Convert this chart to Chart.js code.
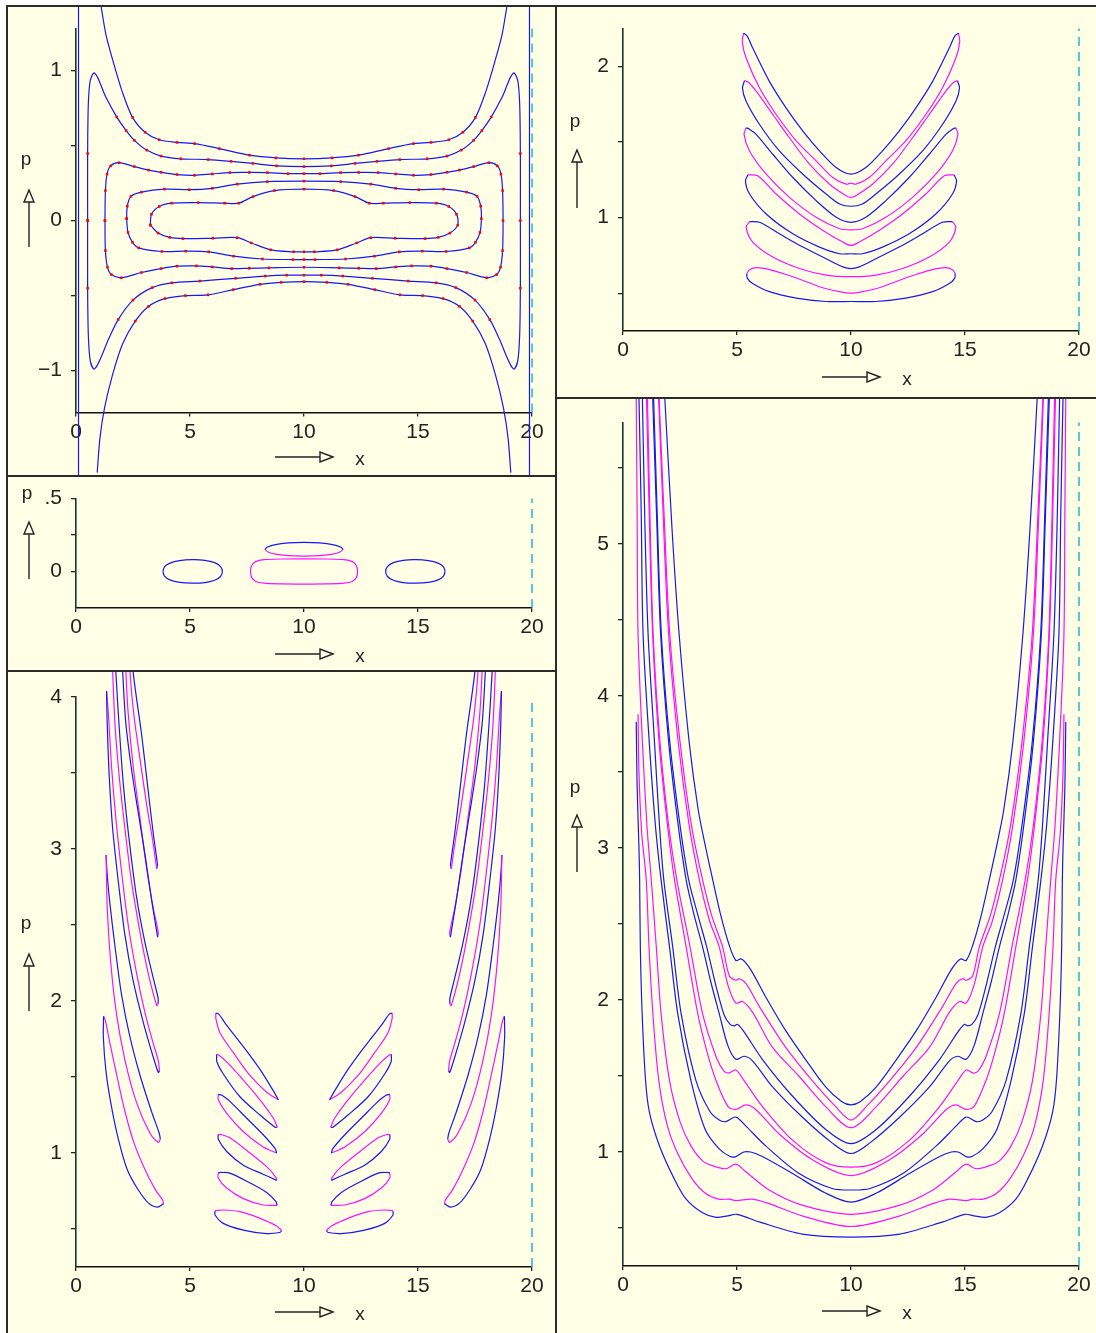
<!DOCTYPE html>
<html>
<head>
<meta charset="utf-8">
<title>Phase portraits</title>
<script src="https://cdn.jsdelivr.net/npm/chart.js@4.4.1/dist/chart.umd.min.js"></script>
<style>
  body { margin: 0; background: #fff; }
  #page { position: relative; width: 1096px; height: 1333px; overflow: hidden; background: #fff; }
  canvas { position: absolute; background: #ffffe6; }
  .rule { position: absolute; background: #2b2b2b; }
</style>
</head>
<body>
<div id="page">
  <canvas id="c1" width="547" height="468" style="left:8px;top:7px"></canvas>
  <canvas id="c2" width="547" height="193" style="left:8px;top:477px"></canvas>
  <canvas id="c3" width="547" height="661" style="left:8px;top:672px"></canvas>
  <canvas id="c4" width="539" height="390" style="left:557px;top:7px"></canvas>
  <canvas id="c5" width="539" height="934" style="left:557px;top:399px"></canvas>
  <div class="rule" style="left:6px;top:5px;width:1090px;height:2px"></div>
  <div class="rule" style="left:6px;top:5px;width:2px;height:1328px"></div>
  <div class="rule" style="left:555px;top:5px;width:2px;height:1328px"></div>
  <div class="rule" style="left:6px;top:475px;width:550px;height:2px"></div>
  <div class="rule" style="left:6px;top:670px;width:550px;height:2px"></div>
  <div class="rule" style="left:555px;top:397px;width:541px;height:2px"></div>
</div>
<script>
// ---- data (left halves run from the left end to x = 10, the picture is mirrored about x = 10) ----
const xTicks = [0, 5, 10, 15, 20];

// panel 1 : p from -1.28 to 1.28
const p1Walls = [0.11, 19.89];
const p1OuterUp = [[1.02,1.5],[1.13,1.4],[1.32,1.235],[1.63,1.06],[2.02,0.863],[2.48,0.688],[3.03,0.589],[3.65,0.539],[4.43,0.521],[5.2,0.513],[6.29,0.48],[7.61,0.436],[8.77,0.418],[10,0.412]];
const p1OuterDown = [[0.93,-1.68],[1.05,-1.45],[1.25,-1.25],[1.6,-1.03],[2.05,-0.82],[2.6,-0.67],[3.18,-0.572],[3.9,-0.52],[4.8,-0.5],[5.79,-0.495],[6.9,-0.46],[8.07,-0.425],[9.0,-0.412],[10,-0.407]];
const p1BoneUp = [[0.51,0],[0.51,0.447],[0.54,0.775],[0.62,0.93],[0.78,0.984],[0.93,0.96],[1.1,0.9],[1.32,0.82],[1.79,0.69],[2.2,0.6],[2.56,0.535],[3.1,0.47],[3.73,0.43],[4.6,0.412],[5.8,0.407],[6.8,0.395],[7.76,0.381],[8.8,0.365],[10,0.36]];
const p1BoneDown = [[0.51,0],[0.51,-0.45],[0.54,-0.76],[0.62,-0.93],[0.78,-0.99],[0.93,-0.965],[1.16,-0.89],[1.4,-0.8],[1.85,-0.66],[2.5,-0.53],[3.34,-0.447],[4.2,-0.415],[5.43,-0.403],[7.0,-0.385],[8.3,-0.37],[9.24,-0.364],[10,-0.364]];
const p1RingDUp = [[1.27,0],[1.29,0.2],[1.36,0.31],[1.52,0.365],[1.89,0.386],[2.56,0.36],[3.18,0.337],[3.73,0.322],[4.43,0.307],[5.2,0.302],[5.98,0.311],[6.75,0.32],[7.6,0.321],[8.39,0.32],[9.3,0.313],[10,0.313]];
const p1RingDDown = [[1.27,0],[1.29,-0.2],[1.38,-0.31],[1.55,-0.36],[1.99,-0.381],[2.87,-0.346],[3.73,-0.32],[4.43,-0.304],[5.28,-0.302],[5.98,-0.309],[6.83,-0.32],[7.6,-0.318],[8.46,-0.315],[10,-0.311]];
const p1RingEUp = [[2.22,0.013],[2.25,0.096],[2.41,0.162],[2.87,0.19],[3.88,0.21],[4.97,0.206],[5.98,0.215],[7.07,0.243],[8.39,0.26],[10,0.263]];
const p1RingEDown = [[2.22,0.013],[2.28,-0.079],[2.48,-0.145],[2.75,-0.182],[3.77,-0.206],[4.81,-0.204],[5.82,-0.208],[6.91,-0.237],[8.18,-0.256],[9.52,-0.26],[10,-0.26]];
const p1RingFUp = [[3.26,-0.03],[3.31,0.042],[3.65,0.094],[4.19,0.116],[5.36,0.12],[6.52,0.116],[7.14,0.116],[7.76,0.16],[8.7,0.2],[10,0.21]];
const p1RingFDown = [[3.26,-0.03],[3.6,-0.083],[4.11,-0.112],[4.69,-0.12],[6.0,-0.118],[7.07,-0.114],[7.69,-0.149],[8.54,-0.195],[9.55,-0.208],[10,-0.208]];

// panel 2 : p from -0.25 to 0.5
const p2EggLeft = [[3.81,0],[3.88,0.032],[4.12,0.058],[4.55,0.075],[5.1,0.081],[5.65,0.077],[6.08,0.061],[6.34,0.034],[6.42,0],[6.34,-0.034],[6.08,-0.06],[5.65,-0.076],[5.1,-0.08],[4.55,-0.074],[4.12,-0.057],[3.88,-0.031],[3.81,0]];
const p2BarUp = [[7.65,0],[7.7,0.04],[7.88,0.068],[8.25,0.081],[9.0,0.086],[10,0.087]];
const p2BarDown = [[7.65,0],[7.7,-0.04],[7.88,-0.068],[8.25,-0.08],[9.0,-0.085],[10,-0.086]];
const p2CapUp = [[8.28,0.152],[8.4,0.168],[8.75,0.185],[9.3,0.196],[10,0.2]];
const p2CapDown = [[8.28,0.152],[8.4,0.136],[8.75,0.119],[9.3,0.109],[10,0.106]];

// panel 3 : slanted islands (upper edge, lower edge), left side only
const p3M1Up = [[6.13,1.92],[6.25,1.915],[6.61,1.84],[7.34,1.7],[8.07,1.55],[8.65,1.41],[8.88,1.35]];
const p3M1Low = [[6.13,1.92],[6.14,1.88],[6.32,1.79],[6.9,1.66],[7.63,1.51],[8.36,1.4],[8.88,1.35]];
const p3M2Up = [[6.17,1.65],[6.3,1.64],[6.61,1.6],[7.34,1.48],[8.07,1.35],[8.65,1.23],[8.83,1.17]];
const p3M2Low = [[6.17,1.65],[6.18,1.6],[6.46,1.52],[7.19,1.37],[8.07,1.25],[8.73,1.17],[8.83,1.17]];
const p3M3Up = [[6.24,1.386],[6.4,1.38],[6.75,1.34],[7.48,1.23],[8.21,1.12],[8.73,1.03],[8.8,1.0]];
const p3M3Low = [[6.24,1.386],[6.24,1.35],[6.61,1.26],[7.34,1.14],[8.21,1.04],[8.8,1.0]];
const p3M4Up = [[6.24,1.123],[6.4,1.12],[6.75,1.1],[7.63,1.0],[8.36,0.91],[8.77,0.84],[8.8,0.82]];
const p3M4Low = [[6.24,1.123],[6.24,1.09],[6.61,1.01],[7.34,0.92],[8.21,0.86],[8.8,0.82]];
const p3M5Up = [[6.24,0.871],[6.4,0.872],[6.75,0.868],[7.63,0.803],[8.36,0.74],[8.77,0.68],[8.82,0.655]];
const p3M5Low = [[6.24,0.871],[6.24,0.834],[6.61,0.77],[7.34,0.7],[8.21,0.658],[8.82,0.655]];
const p3M6Up = [[6.1,0.62],[6.46,0.625],[7.19,0.614],[8.07,0.57],[8.8,0.52],[9.02,0.49]];
const p3M6Low = [[6.1,0.62],[6.1,0.592],[6.46,0.537],[7.34,0.493],[8.36,0.47],[8.94,0.477],[9.02,0.49]];
// panel 3 : long fingers (outer edge, inner edge), left side only
const p3G1Out = [[1.21,1.9],[1.2,1.76],[1.32,1.53],[1.55,1.31],[1.86,1.09],[2.25,0.89],[2.72,0.76],[3.18,0.67],[3.57,0.644],[3.84,0.667]];
const p3G1In = [[1.21,1.9],[1.29,1.87],[1.48,1.73],[1.79,1.51],[2.17,1.26],[2.56,1.06],[3.03,0.89],[3.49,0.756],[3.8,0.69],[3.84,0.667]];
const p3G2Out = [[1.32,2.96],[1.37,2.62],[1.52,2.26],[1.78,1.91],[2.15,1.61],[2.66,1.33],[3.25,1.13],[3.61,1.07],[3.7,1.09]];
const p3G2In = [[1.32,2.96],[1.35,2.87],[1.46,2.68],[1.71,2.36],[2.0,2.04],[2.37,1.76],[2.81,1.51],[3.32,1.27],[3.65,1.13],[3.7,1.09]];
const p3G3Out = [[1.34,4.04],[1.37,3.82],[1.46,3.47],[1.61,3.13],[1.86,2.78],[2.15,2.43],[2.51,2.13],[2.95,1.86],[3.39,1.63],[3.61,1.53],[3.66,1.54]];
const p3G3In = [[1.34,4.04],[1.42,3.89],[1.56,3.54],[1.75,3.2],[2.0,2.85],[2.29,2.5],[2.66,2.18],[3.03,1.92],[3.39,1.72],[3.62,1.6],[3.66,1.54]];
const p3G4Out = [[1.58,4.3],[1.61,4.16],[1.71,3.82],[1.9,3.47],[2.15,3.13],[2.44,2.78],[2.81,2.45],[3.17,2.18],[3.54,1.97],[3.6,1.98]];
const p3G4In = [[1.72,4.3],[1.75,4.16],[1.9,3.79],[2.08,3.42],[2.34,3.05],[2.66,2.68],[3.03,2.38],[3.39,2.15],[3.6,2.02],[3.6,1.98]];
const p3G5Out = [[2.03,4.3],[2.05,4.16],[2.19,3.82],[2.44,3.52],[2.73,3.24],[3.03,2.96],[3.32,2.66],[3.58,2.42]];
const p3G5In = [[2.17,4.3],[2.19,4.16],[2.29,3.89],[2.51,3.54],[2.81,3.2],[3.1,2.87],[3.39,2.61],[3.61,2.45],[3.58,2.42]];
const p3G6Out = [[2.35,4.3],[2.37,4.16],[2.54,3.88],[2.81,3.59],[3.1,3.29],[3.36,3.06],[3.54,2.87]];
const p3G6In = [[2.49,4.3],[2.51,4.16],[2.88,3.75],[3.13,3.43],[3.39,3.1],[3.57,2.9],[3.54,2.87]];

// panel 4 : bananas (upper edge, lower edge), left halves
const p4B1Up = [[5.29,2.22],[5.45,2.2],[5.69,2.121],[6.42,1.901],[7.15,1.726],[7.89,1.572],[8.62,1.441],[9.35,1.331],[10,1.287]];
const p4B1Low = [[5.29,2.22],[5.23,2.164],[5.4,2.055],[5.99,1.857],[6.72,1.682],[7.6,1.507],[8.47,1.375],[9.2,1.265],[9.79,1.221],[10,1.228]];
const p4B2Up = [[5.33,1.906],[5.5,1.895],[5.84,1.836],[6.57,1.682],[7.3,1.528],[8.18,1.353],[9.06,1.221],[9.79,1.145],[10,1.134]];
const p4B2Low = [[5.33,1.906],[5.24,1.857],[5.4,1.77],[5.99,1.616],[6.86,1.441],[7.89,1.287],[8.91,1.156],[9.5,1.09],[10,1.075]];
const p4B3Up = [[5.4,1.594],[5.55,1.585],[5.84,1.55],[6.57,1.419],[7.45,1.265],[8.47,1.112],[9.35,1.002],[10,0.969]];
const p4B3Low = [[5.4,1.594],[5.31,1.55],[5.55,1.441],[6.28,1.287],[7.3,1.134],[8.47,1.002],[9.5,0.926],[10,0.919]];
const p4B4Up = [[5.48,1.283],[5.91,1.276],[6.72,1.156],[7.74,1.024],[8.77,0.915],[9.64,0.838],[10,0.816]];
const p4B4Low = [[5.48,1.283],[5.37,1.243],[5.55,1.156],[6.28,1.024],[7.45,0.893],[8.62,0.805],[9.5,0.761],[10,0.761]];
const p4B5Up = [[5.55,0.974],[5.99,0.969],[6.86,0.893],[7.89,0.805],[8.91,0.728],[9.64,0.674],[10,0.663]];
const p4B5Low = [[5.55,0.974],[5.4,0.937],[5.69,0.838],[6.57,0.739],[7.74,0.663],[8.91,0.619],[10,0.609]];
const p4B6Up = [[5.43,0.63],[5.55,0.655],[5.84,0.669],[6.42,0.656],[7.45,0.609],[8.62,0.543],[9.5,0.51],[10,0.5]];
const p4B6Low = [[5.43,0.63],[5.45,0.6],[5.69,0.564],[6.42,0.51],[7.6,0.467],[8.91,0.445],[10,0.445]];

// panel 5 : open U curves, left halves, top to centre
const p5U1 = [[1.78,6.1],[1.83,5.97],[2.15,5.1],[2.46,4.41],[2.9,3.7],[3.3,3.25],[3.63,3.0],[3.95,2.78],[4.3,2.55],[4.66,2.36],[4.95,2.26],[5.2,2.27],[5.6,2.2],[6.26,2.02],[7.13,1.8],[8.0,1.61],[8.88,1.43],[9.6,1.33],[10,1.31]];
const p5U2 = [[1.55,6.1],[1.58,5.97],[1.8,5.2],[2.05,4.41],[2.5,3.7],[3.0,3.15],[3.49,2.79],[3.9,2.55],[4.37,2.35],[4.66,2.16],[4.95,2.13],[5.1,2.14],[5.39,2.11],[5.97,1.96],[7.13,1.69],[8.3,1.47],[9.32,1.3],[10,1.21]];
const p5U3 = [[1.53,6.1],[1.56,5.97],[1.76,5.2],[2.0,4.41],[2.42,3.7],[2.9,3.15],[3.35,2.79],[3.8,2.52],[4.22,2.35],[4.6,2.1],[4.95,1.98],[5.24,1.99],[5.68,1.92],[6.55,1.69],[7.71,1.5],[8.88,1.3],[10,1.16]];
const p5U4 = [[1.31,6.1],[1.34,5.97],[1.5,5.2],[1.68,4.41],[2.05,3.7],[2.5,3.15],[2.88,2.79],[3.3,2.55],[3.67,2.35],[4.1,2.08],[4.44,1.9],[4.7,1.84],[4.88,1.83],[5.02,1.84],[5.31,1.79],[6.11,1.61],[7.42,1.37],[8.88,1.15],[10,1.055]];
const p5U5 = [[1.27,6.1],[1.3,5.97],[1.47,5.2],[1.65,4.41],[2.0,3.7],[2.42,3.15],[2.77,2.79],[3.1,2.57],[3.49,2.35],[3.85,2.12],[4.22,1.91],[4.6,1.7],[4.95,1.61],[5.31,1.63],[5.68,1.6],[6.55,1.43],[7.86,1.23],[9.17,1.06],[10,0.99]];
const p5U6 = [[1.04,6.1],[1.07,5.97],[1.18,5.2],[1.32,4.41],[1.62,3.7],[2.0,3.15],[2.36,2.79],[2.94,2.35],[3.49,1.91],[4.1,1.62],[4.44,1.53],[4.66,1.52],[4.95,1.54],[5.31,1.47],[6.11,1.3],[7.42,1.08],[8.88,0.93],[10,0.9]];
const p5U7 = [[1.0,6.1],[1.03,5.97],[1.15,5.2],[1.3,4.41],[1.58,3.7],[1.95,3.15],[2.26,2.79],[2.77,2.35],[3.28,1.91],[3.7,1.65],[4.08,1.47],[4.6,1.3],[4.95,1.28],[5.39,1.31],[5.82,1.28],[6.84,1.12],[8.3,0.95],[10,0.845]];
const p5U8 = [[0.82,6.1],[0.85,5.97],[0.95,5.2],[1.1,4.41],[1.38,3.7],[1.6,3.15],[1.79,2.79],[2.18,2.35],[2.55,1.91],[3.2,1.47],[3.8,1.27],[4.22,1.21],[4.51,1.2],[4.95,1.23],[5.39,1.17],[6.26,1.04],[7.71,0.86],[9.17,0.76],[10,0.75]];
const p5U9 = [[0.68,6.1],[0.7,5.97],[0.8,5.2],[0.88,4.41],[1.15,3.7],[1.42,3.15],[1.67,2.79],[2.04,2.35],[2.4,1.91],[2.98,1.47],[3.6,1.15],[4.22,1.02],[4.7,0.97],[4.95,0.97],[5.3,1.0],[5.6,1.0],[6.11,0.97],[7.42,0.86],[8.88,0.73],[10,0.67]];
const p5U10 = [[0.57,6.1],[0.58,5.97],[0.62,5.2],[0.66,4.41],[0.85,3.7],[1.05,3.15],[1.24,2.79],[1.46,2.35],[1.67,1.91],[2.04,1.47],[2.5,1.2],[2.98,1.04],[3.5,0.94],[3.93,0.91],[4.51,0.89],[4.95,0.92],[5.39,0.87],[6.41,0.75],[7.86,0.65],[10,0.59]];
const p5U11 = [[0.66,3.88],[0.7,3.5],[0.82,3.1],[1.02,2.79],[1.14,2.35],[1.31,1.91],[1.57,1.47],[1.95,1.17],[2.4,0.99],[3.0,0.83],[3.6,0.73],[4.2,0.69],[4.66,0.69],[4.95,0.68],[5.68,0.69],[6.41,0.66],[7.86,0.58],[10,0.51]];
const p5U12 = [[0.58,3.83],[0.62,3.4],[0.7,3.0],[0.73,2.79],[0.76,2.35],[0.84,1.91],[0.99,1.47],[1.16,1.26],[1.6,1.04],[2.26,0.82],[2.77,0.69],[3.49,0.6],[4.08,0.57],[4.6,0.58],[5.0,0.59],[5.97,0.54],[7.86,0.46],[10,0.44]];

// ---- drawing ----
const BLUE = '#1818f4', MAG = '#ff10ff', CYAN = '#10b4c8', RED = '#ff0000';
Chart.defaults.font.family = '"Liberation Sans", Arial, sans-serif';

function flipX(a) { return a.map(([x, y]) => [20 - x, y]); }
function fullEdge(half) {
  const right = half.slice(0, -1).reverse().map(([x, y]) => [20 - x, y]);
  return half.concat(right);
}
function loop(upper, lower) {
  const u = fullEdge(upper);
  const l = fullEdge(lower).reverse();
  return u.concat(l.slice(1));
}
function curve(arr, color, extra) {
  return Object.assign({
    data: arr.map(([x, y]) => ({ x, y })),
    showLine: true, borderColor: color, borderWidth: 1.2,
    pointRadius: 0, pointHoverRadius: 0, tension: 0.3, clip: false, fill: false
  }, extra || {});
}
// red sample marks along the panel-1 curves, left off the steep flanks
const dots = {
  pointStyle: 'rect', pointBackgroundColor: RED, pointBorderWidth: 0,
  pointRadius: ctx => (Math.abs(ctx.raw.y) < 0.75 ? 1.8 : 0)
};

function decor(cfg) {
  return {
    id: 'decor',
    afterDraw(chart) {
      const c = chart.ctx, L = cfg.box[0], T = cfg.box[1];
      c.save();
      c.strokeStyle = '#222'; c.fillStyle = '#222'; c.lineWidth = 1.4;
      c.font = '19px "Liberation Sans", Arial, sans-serif';
      c.textAlign = 'center'; c.textBaseline = 'middle';
      c.fillText('p', cfg.pLabel[0] - L, cfg.pLabel[1] - T);
      c.fillText('x', cfg.xLabel[0] - L, cfg.xLabel[1] - T);
      const [ax, tip, bot] = cfg.upArrow;
      c.beginPath(); c.moveTo(ax - L, bot - T); c.lineTo(ax - L, tip + 12 - T); c.stroke();
      c.beginPath(); c.moveTo(ax - L, tip - T); c.lineTo(ax - 5 - L, tip + 12 - T); c.lineTo(ax + 5 - L, tip + 12 - T); c.closePath(); c.stroke();
      const [x1, x2, ay] = cfg.xArrow;
      c.beginPath(); c.moveTo(x1 - L, ay - T); c.lineTo(x2 - 13 - L, ay - T); c.stroke();
      c.beginPath(); c.moveTo(x2 - L, ay - T); c.lineTo(x2 - 13 - L, ay - 5 - T); c.lineTo(x2 - 13 - L, ay + 5 - T); c.closePath(); c.stroke();
      c.restore();
    }
  };
}

function buildChart(cfg) {
  const cv = document.getElementById(cfg.id);
  const L = cfg.box[0], T = cfg.box[1];
  const aL = cfg.x0 - L, aR = cfg.x20 - L, aT = cfg.yTopPx - T, aB = cfg.yBotPx - T;
  const sets = cfg.sets.slice();
  sets.push(curve([[20, cfg.ymin], [20, cfg.ymax]], CYAN, { borderDash: [9, 6], tension: 0, borderWidth: 1.4 }));
  new Chart(cv, {
    type: 'scatter',
    data: { datasets: sets },
    options: {
      responsive: false, animation: false, events: [],
      layout: { padding: { left: 0, top: aT, right: cv.width - aR, bottom: 0 } },
      elements: { line: { capBezierPoints: false } },
      plugins: { legend: { display: false }, tooltip: { enabled: false } },
      scales: {
        x: {
          type: 'linear', min: 0, max: 20,
          afterFit(s) { s.height = cv.height - aB; },
          afterBuildTicks(s) { s.ticks = xTicks.map(v => ({ value: v })); },
          grid: { drawOnChartArea: false, tickLength: 4, color: '#222', lineWidth: 1.3 },
          border: { color: '#111', width: 1.6 },
          ticks: { padding: 3, color: '#222', font: { size: 21 }, maxRotation: 0, autoSkip: false }
        },
        y: {
          type: 'linear', min: cfg.ymin, max: cfg.ymax,
          afterFit(s) { s.width = aL; },
          afterBuildTicks(s) { s.ticks = cfg.yticks.map(v => ({ value: v })); },
          grid: { drawOnChartArea: false, tickLength: 5, color: '#222', lineWidth: 1.3 },
          border: { color: '#163636', width: 1.6 },
          ticks: { padding: 9, color: '#222', font: { size: 21 }, autoSkip: false, callback: v => cfg.ylabels[v] ?? '' }
        }
      }
    },
    plugins: [decor(cfg)]
  });
}

// panel 1
const sets1 = [
  curve([[p1Walls[0], -1.7], [p1Walls[0], 1.7]], BLUE, { tension: 0 }),
  curve([[p1Walls[1], -1.7], [p1Walls[1], 1.7]], BLUE, { tension: 0 }),
  curve(fullEdge(p1OuterUp), BLUE, dots),
  curve(fullEdge(p1OuterDown), BLUE, dots),
  curve(loop(p1BoneUp, p1BoneDown), BLUE, dots),
  curve(loop(p1RingDUp, p1RingDDown), BLUE, dots),
  curve(loop(p1RingEUp, p1RingEDown), BLUE, dots),
  curve(loop(p1RingFUp, p1RingFDown), BLUE, dots)
];
buildChart({
  id: 'c1', box: [8, 7], x0: 76, x20: 532, yTopPx: 23.4, yBotPx: 412.6, ymin: -1.28, ymax: 1.28,
  yticks: [-1, -0.5, 0, 0.5, 1], ylabels: { '1': '1', '0': '0', '-1': '\u22121' },
  pLabel: [26, 160], upArrow: [29, 190, 247], xArrow: [275, 333, 457], xLabel: [360, 460], sets: sets1
});

// panel 2
const sets2 = [
  curve(p2EggLeft, BLUE),
  curve(flipX(p2EggLeft), BLUE),
  curve(loop(p2BarUp, p2BarDown), MAG),
  curve(fullEdge(p2CapUp), BLUE),
  curve(fullEdge(p2CapDown), MAG)
];
buildChart({
  id: 'c2', box: [8, 477], x0: 76, x20: 532, yTopPx: 494, yBotPx: 608, ymin: -0.25, ymax: 0.5,
  yticks: [0, 0.25, 0.5], ylabels: { '0': '0', '0.5': '.5' },
  pLabel: [27, 494], upArrow: [29, 522, 579], xArrow: [275, 333, 654], xLabel: [360, 657], sets: sets2
});

// panel 3
const mids = [[p3M1Up, p3M1Low], [p3M2Up, p3M2Low], [p3M3Up, p3M3Low], [p3M4Up, p3M4Low], [p3M5Up, p3M5Low], [p3M6Up, p3M6Low]];
const fingers = [[p3G1Out, p3G1In], [p3G2Out, p3G2In], [p3G3Out, p3G3In], [p3G4Out, p3G4In], [p3G5Out, p3G5In], [p3G6Out, p3G6In]];
const sets3 = [];
mids.forEach(([up, low], i) => {
  const cu = i % 2 === 0 ? BLUE : MAG, cl = i % 2 === 0 ? MAG : BLUE;
  sets3.push(curve(up, cu), curve(low, cl), curve(flipX(up), cu), curve(flipX(low), cl));
});
fingers.forEach(([out, inn], i) => {
  const co = i % 2 === 0 ? BLUE : MAG, ci = i % 2 === 0 ? MAG : BLUE;
  sets3.push(curve(out, co), curve(inn, ci), curve(flipX(out), co), curve(flipX(inn), ci));
});
buildChart({
  id: 'c3', box: [8, 672], x0: 76, x20: 532, yTopPx: 697, yBotPx: 1267, ymin: 0.25, ymax: 4,
  yticks: [0.5, 1, 1.5, 2, 2.5, 3, 3.5, 4], ylabels: { '1': '1', '2': '2', '3': '3', '4': '4' },
  pLabel: [26, 924], upArrow: [29, 954, 1011], xArrow: [275, 333, 1312], xLabel: [360, 1315], sets: sets3
});

// panel 4
const bananas = [[p4B1Up, p4B1Low], [p4B2Up, p4B2Low], [p4B3Up, p4B3Low], [p4B4Up, p4B4Low], [p4B5Up, p4B5Low], [p4B6Up, p4B6Low]];
const sets4 = [];
bananas.forEach(([up, low], i) => {
  sets4.push(curve(fullEdge(up), i % 2 === 0 ? BLUE : MAG), curve(fullEdge(low), i % 2 === 0 ? MAG : BLUE));
});
buildChart({
  id: 'c4', box: [557, 7], x0: 623, x20: 1079, yTopPx: 27, yBotPx: 331, ymin: 0.25, ymax: 2.25,
  yticks: [0.5, 1, 1.5, 2], ylabels: { '1': '1', '2': '2' },
  pLabel: [575, 122], upArrow: [577, 150, 208], xArrow: [822, 880, 377], xLabel: [907, 380], sets: sets4
});

// panel 5
const uCurves = [p5U1, p5U2, p5U3, p5U4, p5U5, p5U6, p5U7, p5U8, p5U9, p5U10, p5U11, p5U12];
const uColors = [BLUE, MAG, MAG, BLUE, BLUE, MAG, MAG, BLUE, BLUE, MAG, MAG, BLUE];
const sets5 = uCurves.map((u, i) => curve(fullEdge(u), uColors[i]));
buildChart({
  id: 'c5', box: [557, 399], x0: 623, x20: 1079, yTopPx: 422.4, yBotPx: 1266, ymin: 0.25, ymax: 5.8,
  yticks: [0.5, 1, 1.5, 2, 2.5, 3, 3.5, 4, 4.5, 5, 5.5], ylabels: { '1': '1', '2': '2', '3': '3', '4': '4', '5': '5' },
  pLabel: [575, 788], upArrow: [577, 815, 872], xArrow: [822, 880, 1311], xLabel: [907, 1314], sets: sets5
});
</script>
</body>
</html>
